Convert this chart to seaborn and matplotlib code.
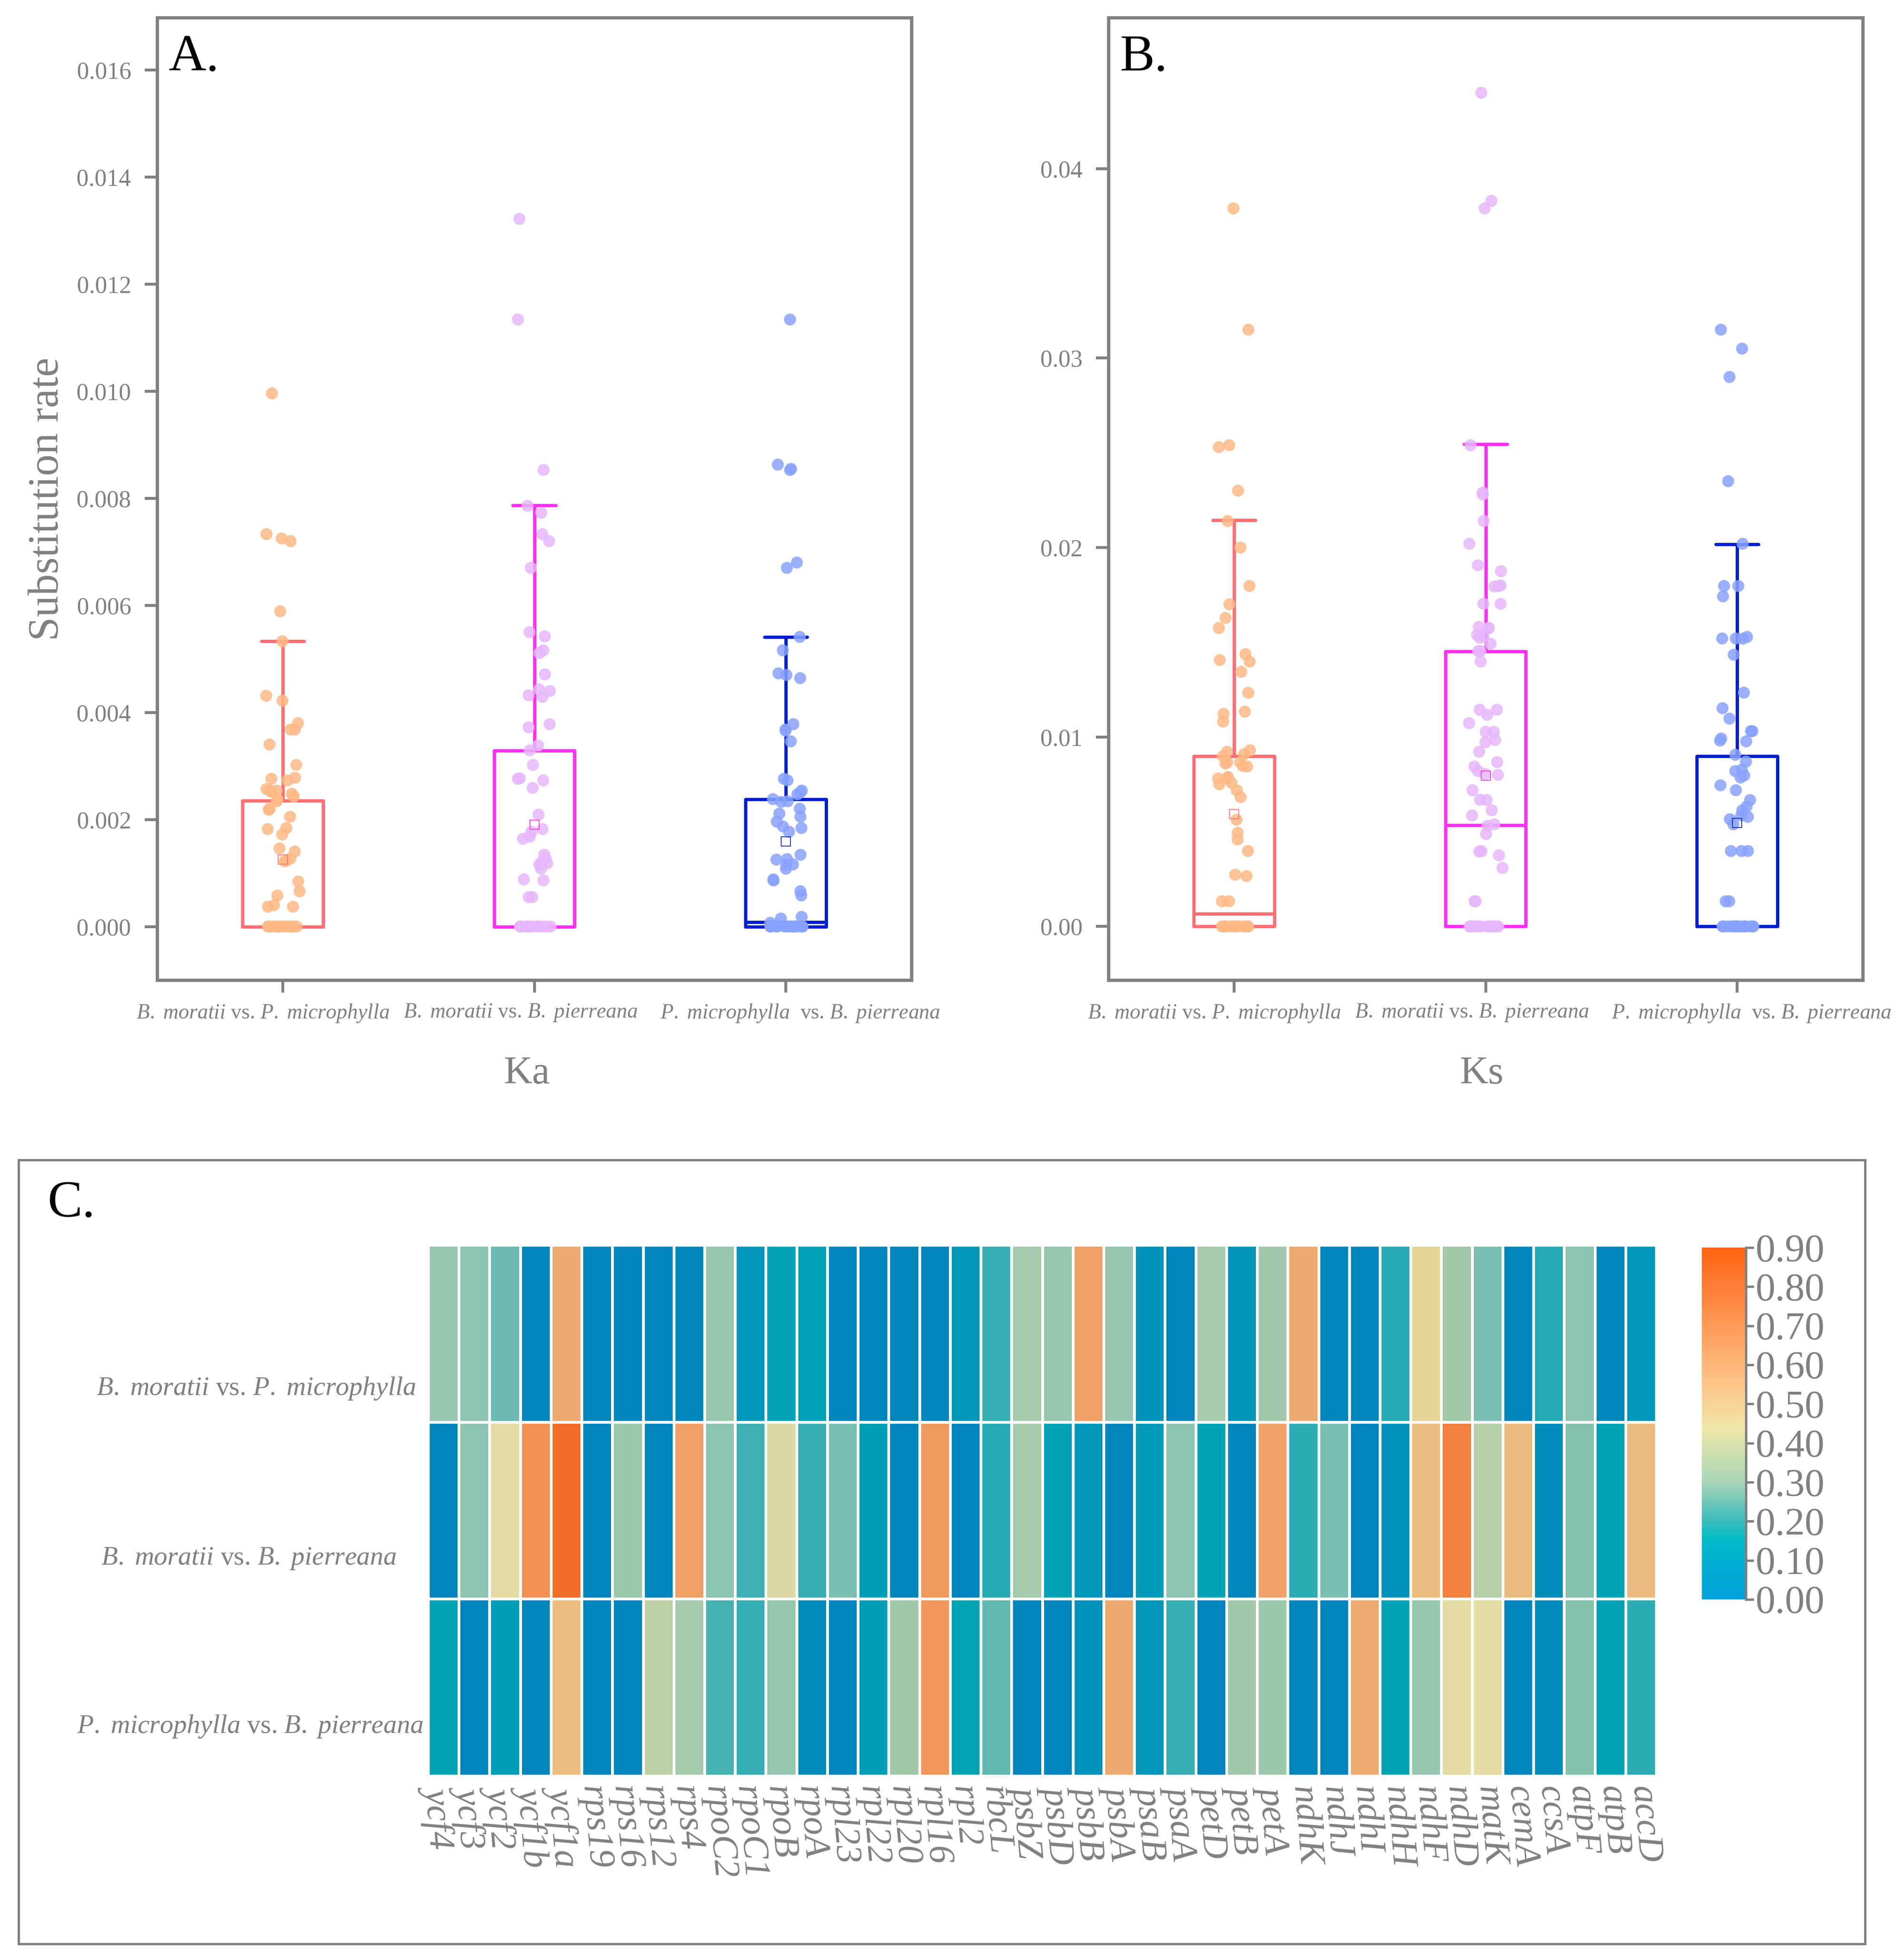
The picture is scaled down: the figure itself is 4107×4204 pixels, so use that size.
import numpy as np
import pandas as pd
import matplotlib
matplotlib.use('Agg')
import matplotlib.pyplot as plt
from matplotlib.colors import LinearSegmentedColormap, Normalize
from matplotlib.cm import ScalarMappable
from matplotlib.patches import Rectangle
from matplotlib.transforms import ScaledTranslation
import seaborn as sns

PAIRS = ['B. moratii vs. P. microphylla', 'B. moratii vs. B. pierreana', 'P. microphylla  vs. B. pierreana']

# Ka values
ka_mp = [0.00996, 0.00733, 0.00725, 0.0072, 0.00589, 0.00533, 0.00431, 0.00422, 0.0038, 0.00368, 0.00368,
         0.0034, 0.00302, 0.00278, 0.00276, 0.00273, 0.00257, 0.00254, 0.00254, 0.00252, 0.00248, 0.00243,
         0.00237, 0.00234, 0.0022, 0.00218, 0.00205, 0.00184, 0.00182, 0.00172, 0.00146, 0.0014, 0.00127,
         0.00123, 0.00122, 0.00084, 0.00066, 0.00058, 0.0004, 0.00037, 0.00037] + [0.0] * 14
ka_mb = [0.01322, 0.01134, 0.00853, 0.00786, 0.00773, 0.00733, 0.0072, 0.0067, 0.0055, 0.00542, 0.00516,
         0.00511, 0.00471, 0.00443, 0.0044, 0.00432, 0.00429, 0.00378, 0.00372, 0.00338, 0.00329, 0.00302,
         0.00277, 0.00276, 0.00273, 0.00259, 0.00209, 0.00182, 0.00177, 0.00168, 0.00164, 0.00134, 0.00127,
         0.00122, 0.00118, 0.00116, 0.00108, 0.00088, 0.00086, 0.00055, 0.00055] + [0.0] * 15
ka_pb = [0.01134, 0.00863, 0.00855, 0.00853, 0.0068, 0.0067, 0.00541, 0.00516, 0.00473, 0.0047, 0.00464,
         0.00378, 0.00368, 0.00366, 0.00346, 0.00276, 0.00273, 0.00254, 0.00251, 0.00247, 0.00238, 0.00234,
         0.00233, 0.0022, 0.00211, 0.00205, 0.00196, 0.00187, 0.00184, 0.00177, 0.00134, 0.00126, 0.00125,
         0.00116, 0.00115, 0.00108, 0.00088, 0.00086, 0.00066, 0.00058, 0.00018, 0.00015, 0.00007] + [0.0] * 14

# Ks values
ks_mp = [0.0379, 0.0315, 0.0254, 0.0253, 0.023, 0.0214, 0.02, 0.01797, 0.017, 0.01628, 0.01575, 0.01437,
         0.01406, 0.01398, 0.01344, 0.01233, 0.01134, 0.01122, 0.01081, 0.0093, 0.00922, 0.00909, 0.00898,
         0.00867, 0.00867, 0.0086, 0.00847, 0.00844, 0.00789, 0.00784, 0.00781, 0.00758, 0.0075, 0.00719,
         0.00683, 0.00563, 0.00494, 0.00459, 0.00398, 0.00273, 0.00266, 0.00133, 0.00133] + [0.0] * 15
ks_mb = [0.044, 0.0383, 0.0379, 0.0254, 0.0229, 0.0228, 0.0214, 0.0202, 0.01906, 0.01875, 0.01797, 0.018,
         0.01794, 0.01703, 0.01703, 0.01581, 0.01575, 0.01575, 0.01534, 0.01539, 0.01523, 0.01492, 0.01453,
         0.01453, 0.01398, 0.01144, 0.01144, 0.01117, 0.01073, 0.01027, 0.01027, 0.00984, 0.00972, 0.00922,
         0.00867, 0.00844, 0.0082, 0.00805, 0.008, 0.00719, 0.00669, 0.00667, 0.00613, 0.00586, 0.00539,
         0.00531, 0.00488, 0.00398, 0.00395, 0.00375, 0.00309, 0.00133, 0.00133] + [0.0] * 15
ks_pb = [0.0315, 0.0305, 0.029, 0.0235, 0.0202, 0.01797, 0.01797, 0.01742, 0.0152, 0.01519, 0.01528, 0.0152,
         0.01434, 0.01234, 0.01152, 0.01097, 0.01031, 0.01031, 0.00992, 0.00981, 0.00977, 0.00906, 0.0087,
         0.00828, 0.0082, 0.00797, 0.00786, 0.00745, 0.00719, 0.00667, 0.00633, 0.00613, 0.00586, 0.00578,
         0.00566, 0.00539, 0.00398, 0.00398, 0.00398, 0.00133, 0.00133] + [0.0] * 16

# box summary per pair: median, q3, whisker top, mean (q1 is 0 everywhere)
ka_q3 = [0.00235, 0.00329, 0.00238]
ka_med = [0.0, 0.0, 0.00008]
ka_top = [0.00533, 0.00787, 0.00541]
ka_mean = [0.00125, 0.0019, 0.00159]
ks_q3 = [0.009, 0.01453, 0.00898]
ks_med = [0.00067, 0.00534, 0.0]
ks_top = [0.02145, 0.02545, 0.02018]
ks_mean = [0.00593, 0.00797, 0.00547]

GENES = ['ycf4', 'ycf3', 'ycf2', 'ycf1b', 'ycf1a', 'rps19', 'rps16', 'rps12', 'rps4', 'rpoC2', 'rpoC1', 'rpoB',
         'rpoA', 'rpl23', 'rpl22', 'rpl20', 'rpl16', 'rpl2', 'rbcL', 'psbZ', 'psbD', 'psbB', 'psbA', 'psaB', 'psaA',
         'petD', 'petB', 'petA', 'ndhK', 'ndhJ', 'ndhI', 'ndhH', 'ndhF', 'ndhD', 'matK', 'cemA', 'ccsA', 'atpF',
         'atpB', 'accD']
ratio_mp = [0.30, 0.29, 0.25, 0, 0.62, 0, 0, 0, 0, 0.30, 0.07, 0.12, 0.11, 0, 0, 0, 0, 0.07, 0.19, 0.33,
            0.30, 0.66, 0.30, 0.05, 0, 0.33, 0.06, 0.32, 0.62, 0, 0, 0.17, 0.47, 0.32, 0.27, 0, 0.17, 0.29, 0, 0.07]
ratio_mb = [0, 0.29, 0.44, 0.72, 0.85, 0, 0.31, 0, 0.66, 0.29, 0.20, 0.42, 0.19, 0.27, 0.10, 0, 0.68, 0, 0.17, 0.33,
            0.12, 0.07, 0, 0.09, 0.29, 0.12, 0, 0.65, 0.18, 0.27, 0, 0.05, 0.55, 0.78, 0.36, 0.56, 0.03, 0.28, 0.12, 0.56]
ratio_pb = [0.12, 0, 0.10, 0, 0.55, 0, 0, 0.37, 0.33, 0.21, 0.19, 0.30, 0.03, 0, 0.10, 0.32, 0.69, 0.13, 0.24, 0,
            0, 0.05, 0.62, 0.07, 0.19, 0, 0.32, 0.31, 0, 0, 0.61, 0.12, 0.30, 0.44, 0.44, 0, 0.03, 0.28, 0.12, 0.18]

BOX_COLORS = ['#ff6f73', '#ff2ff5', '#001fd0']
DOT_COLORS = ['#ffb985', '#e6b6fb', '#88a3ff']
GRAY = '#808080'
# the x labels sit off their ticks in the original (pixels)
XLABEL_SHIFT = [-43, -30, 31]
YLABEL_SHIFT = [16, 0, 3]

W, H = 4107, 4204
sns.set_theme(style='ticks')
plt.rcParams['font.family'] = ['Liberation Serif']
plt.rcParams['mathtext.fontset'] = 'custom'
plt.rcParams['mathtext.it'] = 'Liberation Serif:italic'
plt.rcParams['mathtext.rm'] = 'Liberation Serif'
np.random.seed(11)  # only for the strip jitter


def it_label(pair):
    # species names in italics, "vs." upright
    left, right = pair.split('vs.')
    gap = '  ' if left.endswith('  ') else ' '
    left = left.strip().replace(' ', r'\ ')
    right = right.strip().replace(' ', r'\ ')
    return f'$\\mathit{{{left}}}${gap}vs. $\\mathit{{{right}}}$'


def px_axes(fig, x0, y0, x1, y1):
    return fig.add_axes([x0 / W, 1 - y1 / H, (x1 - x0) / W, (y1 - y0) / H])


def draw_box_panel(ax, groups, q3, med, top, means, ylim, ticks, fmt, xlabel, xlabel_x, letter):
    df = pd.DataFrame({
        'pair': [p for p, g in zip(PAIRS, groups) for _ in g],
        'value': [v for g in groups for v in g],
    })
    sns.stripplot(data=df, x='pair', y='value', hue='pair', order=PAIRS, hue_order=PAIRS, palette=DOT_COLORS,
                  jitter=0.068, size=6.2, alpha=0.85, linewidth=0, legend=False, zorder=3, ax=ax)
    for i in range(3):
        stats = [{'med': med[i], 'q1': 0.0, 'q3': q3[i], 'whislo': 0.0, 'whishi': top[i], 'mean': means[i], 'fliers': []}]
        c = BOX_COLORS[i]
        ax.bxp(stats, positions=[i], widths=0.32, capwidths=0.17, showmeans=True, showfliers=False, manage_ticks=False,
               boxprops={'color': c, 'linewidth': 1.7}, whiskerprops={'color': c, 'linewidth': 1.7},
               capprops={'color': c, 'linewidth': 1.7}, medianprops={'color': c, 'linewidth': 1.7},
               meanprops={'marker': 's', 'markerfacecolor': 'none', 'markeredgecolor': c, 'markersize': 4.6,
                          'markeredgewidth': 0.4, 'zorder': 4})
    ax.set_xlim(-0.5, 2.5)
    ax.set_ylim(*ylim)
    ax.set_yticks(ticks)
    ax.set_yticklabels([fmt.format(t) for t in ticks])
    ax.set_xticks(range(3))
    ax.set_xticklabels([it_label(p) for p in PAIRS], fontsize=11, color=GRAY)
    ax.tick_params(axis='x', length=6.5, width=1.5, color=GRAY, pad=5)
    ax.tick_params(axis='y', length=6.5, width=1.5, color=GRAY, labelsize=12.5, labelcolor=GRAY, pad=7)
    for lab, dx in zip(ax.get_xticklabels(), XLABEL_SHIFT):
        lab.set_transform(lab.get_transform() + ScaledTranslation(dx / 300, 0, fig.dpi_scale_trans))
    ax.set_xlabel(xlabel, fontsize=20.5, color=GRAY, labelpad=16.5, x=xlabel_x)
    ax.set_ylabel('')
    for s in ax.spines.values():
        s.set_visible(True)
        s.set_color(GRAY)
        s.set_linewidth(1.7)
    ax.text(0.015, 0.958, letter, transform=ax.transAxes, fontsize=27, color='black', ha='left', va='center')


fig = plt.figure(figsize=(W / 300, H / 300), dpi=300, facecolor='white')

ax_a = px_axes(fig, 339, 38, 1966, 2114)
draw_box_panel(ax_a, [ka_mp, ka_mb, ka_pb], ka_q3, ka_med, ka_top, ka_mean, (-0.001, 0.01698),
               [0, 0.002, 0.004, 0.006, 0.008, 0.01, 0.012, 0.014, 0.016], '{:.3f}', 'Ka', 0.49, 'A.')
ax_a.set_ylabel('Substitution rate', fontsize=22.3, color=GRAY, labelpad=5)

ax_b = px_axes(fig, 2391, 38, 4018, 2114)
draw_box_panel(ax_b, [ks_mp, ks_mb, ks_pb], ks_q3, ks_med, ks_top, ks_mean, (-0.00283, 0.04797),
               [0, 0.01, 0.02, 0.03, 0.04], '{:.2f}', 'Ks', 0.495, 'B.')

# panel C frame
fig.add_artist(Rectangle((40 / W, 1 - 4193 / H), (4023 - 40) / W, (4193 - 2502) / H, transform=fig.transFigure,
                         fill=False, edgecolor=GRAY, linewidth=1.2))
fig.text(102 / W, 1 - 2597 / H, 'C.', fontsize=27, color='black', ha='left', va='center')

cell_cmap = LinearSegmentedColormap.from_list('cells', [
    (0.0, '#0085bd'), (0.13 / 0.9, '#00a6b5'), (0.2 / 0.9, '#40afb3'), (0.3 / 0.9, '#96c6ae'),
    (0.37 / 0.9, '#bdd1a8'), (0.44 / 0.9, '#e4dca2'), (0.55 / 0.9, '#edbd80'), (0.65 / 0.9, '#f0a268'),
    (0.75 / 0.9, '#f28848'), (1.0, '#f26018')])
bar_cmap = LinearSegmentedColormap.from_list('bar', [
    (0.0, '#00a0da'), (0.08 / 0.9, '#00acd2'), (0.15 / 0.9, '#00bcc8'), (0.22 / 0.9, '#50bfb8'),
    (0.3 / 0.9, '#a8d6b6'), (0.44 / 0.9, '#f0e6a8'), (0.55 / 0.9, '#fdc688'), (0.65 / 0.9, '#ffa868'),
    (0.8 / 0.9, '#ff7d36'), (1.0, '#ff6410')])

ratios = pd.DataFrame([ratio_mp, ratio_mb, ratio_pb], index=PAIRS, columns=GENES)
ax_c = px_axes(fig, 924, 2686, 3573, 3831)
sns.heatmap(ratios, ax=ax_c, cmap=cell_cmap, vmin=0, vmax=0.9, linewidths=1, linecolor='white', cbar=False)

ax_c.set_xticks(np.arange(len(GENES)) * 1.006 + 0.28)
ax_c.set_xticklabels(GENES, rotation=-85, ha='left', va='center', rotation_mode='anchor', fontstyle='italic',
                     fontsize=19, color=GRAY)
ax_c.set_yticks([0.81, 1.77, 2.72])
ax_c.set_yticklabels([it_label(p.replace('  ', ' ')) for p in PAIRS], rotation=0, ha='center', va='center',
                     fontsize=13.9, color=GRAY)
ax_c.tick_params(axis='both', length=0)
ax_c.tick_params(axis='x', pad=5)
ax_c.tick_params(axis='y', pad=93)
for lab, dx in zip(ax_c.get_yticklabels(), YLABEL_SHIFT):
    lab.set_transform(lab.get_transform() + ScaledTranslation(dx / 300, 0, fig.dpi_scale_trans))

cax = px_axes(fig, 3671, 2691, 3766, 3450)
cb = fig.colorbar(ScalarMappable(norm=Normalize(0, 0.9), cmap=bar_cmap), cax=cax)
cb.set_ticks(np.arange(0, 0.91, 0.1))
cb.set_ticklabels([f'{t:.2f}' for t in np.arange(0, 0.91, 0.1)])
cb.ax.tick_params(length=4, width=1.2, color=GRAY, labelsize=20.5, labelcolor=GRAY, pad=1)
cb.outline.set_visible(False)
for name, s in cb.ax.spines.items():
    s.set_visible(name == 'right')
    s.set_color(GRAY)
    s.set_linewidth(1.2)

fig.savefig('out.png', dpi=300)
